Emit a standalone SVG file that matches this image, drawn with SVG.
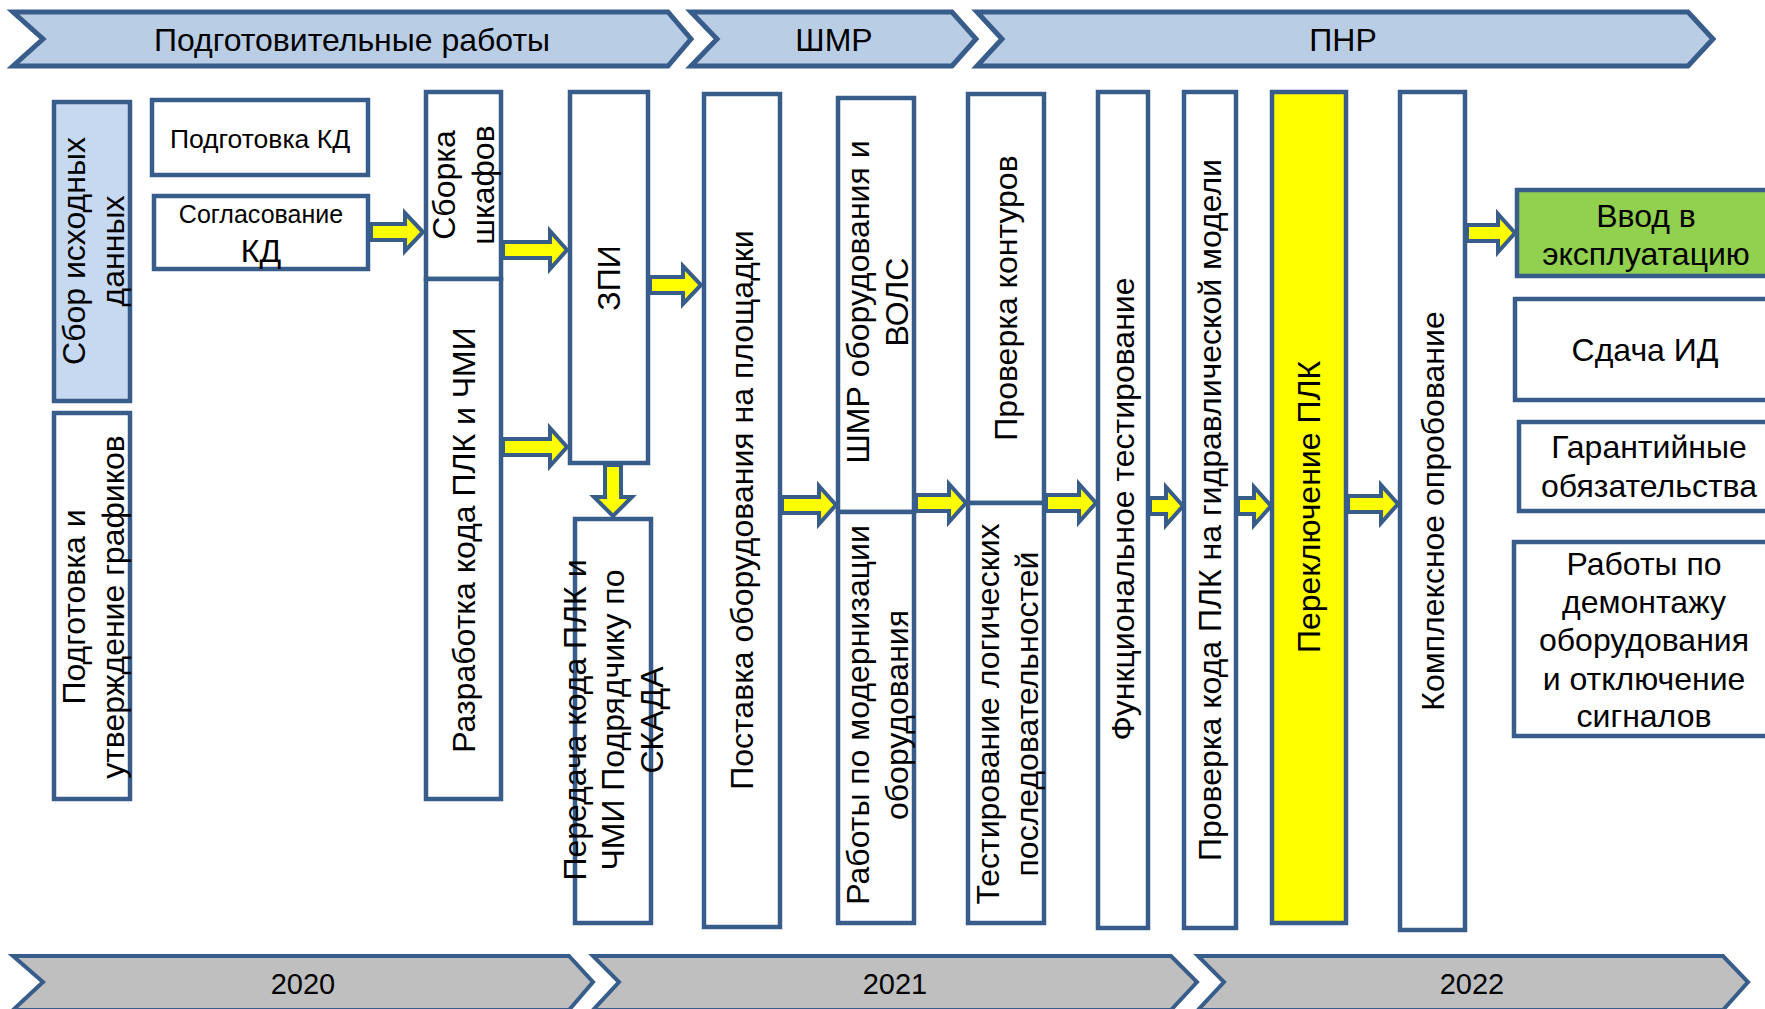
<svg xmlns="http://www.w3.org/2000/svg" width="1765" height="1009" viewBox="0 0 1765 1009">
<style>
.bg{fill:#fff}
.chev{fill:#B9CDE5;stroke:#385D8A;stroke-width:5;stroke-linejoin:miter}
.year{fill:#BFBFBF;stroke:#385D8A;stroke-width:4;stroke-linejoin:miter}
.box{fill:#fff;stroke:#385D8A;stroke-width:4.5}
.blue{fill:#C6D9F1}
.yellow{fill:#FFFF00}
.green{fill:#92D050}
.arrow{fill:#FFFF00;stroke:#385D8A;stroke-width:4;stroke-linejoin:miter}
.t{font-family:"Liberation Sans",Arial,sans-serif;font-size:32px;fill:#000;text-anchor:middle;dominant-baseline:central}
</style>
<rect class="bg" x="0" y="0" width="1765" height="1009"/>

<g id="phases">
  <g id="phase-prep">
    <polygon class="chev" points="13,12 668,12 691,39 668,66 13,66 43,39"/>
    <text class="t" x="352" y="40" style="font-size:32px">Подготовительные работы</text>
  </g>
  <g id="phase-shmr">
    <polygon class="chev" points="691,12 952,12 976,39 952,66 691,66 717,39"/>
    <text class="t" x="834" y="40" style="font-size:32px">ШМР</text>
  </g>
  <g id="phase-pnr">
    <polygon class="chev" points="977,12 1688,12 1713,39 1688,66 977,66 1002,39"/>
    <text class="t" x="1343" y="40" style="font-size:32px">ПНР</text>
  </g>
</g>

<g id="years">
  <g id="year-2020">
    <polygon class="year" points="13,956 569,956 593,982 569,1010 13,1010 43,982"/>
    <text class="t" x="303" y="984" style="font-size:29px">2020</text>
  </g>
  <g id="year-2021">
    <polygon class="year" points="593,956 1171,956 1197,982 1171,1010 593,1010 619,982"/>
    <text class="t" x="895" y="984" style="font-size:29px">2021</text>
  </g>
  <g id="year-2022">
    <polygon class="year" points="1198,956 1723,956 1748,982 1723,1010 1198,1010 1224,982"/>
    <text class="t" x="1472" y="984" style="font-size:29px">2022</text>
  </g>
</g>

<g id="n-sbor">
  <rect class="box blue" x="54" y="102" width="76" height="299"/>
  <text class="t" transform="translate(93,251) rotate(-90)"><tspan x="0" dy="-19">Сбор исходных</tspan><tspan x="0" dy="38.5">данных</tspan></text>
</g>
<g id="n-grafiki">
  <rect class="box" x="54" y="413" width="76" height="386"/>
  <text class="t" transform="translate(93,607) rotate(-90)"><tspan x="0" dy="-19">Подготовка и</tspan><tspan x="0" dy="38.5">утверждение графиков</tspan></text>
</g>
<g id="n-podg-kd">
  <rect class="box" x="152" y="100" width="216" height="75"/>
  <text class="t" x="260" y="139" style="font-size:26.5px">Подготовка КД</text>
</g>
<g id="n-sogl-kd">
  <rect class="box" x="154" y="196" width="214" height="73"/>
  <text class="t" x="261" y="214" style="font-size:25px">Согласование</text>
  <text class="t" x="261" y="251">КД</text>
</g>
<g id="n-sborka">
  <rect class="box" x="426" y="92" width="75" height="187"/>
  <text class="t" transform="translate(463,185) rotate(-90)"><tspan x="0" dy="-19">Сборка</tspan><tspan x="0" dy="38.5">шкафов</tspan></text>
</g>
<g id="n-razrab">
  <rect class="box" x="426" y="279" width="75" height="520"/>
  <text class="t" transform="translate(464,540) rotate(-90)">Разработка кода ПЛК и ЧМИ</text>
</g>
<g id="n-zpi">
  <rect class="box" x="570" y="92" width="78" height="371"/>
  <text class="t" transform="translate(609,278) rotate(-90)">ЗПИ</text>
</g>
<g id="n-peredacha">
  <rect class="box" x="575" y="519" width="76" height="404"/>
  <text class="t" transform="translate(613,720) rotate(-90)"><tspan x="0" dy="-38.5">Передача кода ПЛК и</tspan><tspan x="0" dy="38.5">ЧМИ Подрядчику по</tspan><tspan x="0" dy="38.5">СКАДА</tspan></text>
</g>
<g id="n-postavka">
  <rect class="box" x="704" y="94" width="76" height="833"/>
  <text class="t" transform="translate(742,510) rotate(-90)">Поставка оборудования на площадки</text>
</g>
<g id="n-shmr">
  <rect class="box" x="838" y="98" width="76" height="414"/>
  <text class="t" transform="translate(877,302) rotate(-90)"><tspan x="0" dy="-19">ШМР оборудования и</tspan><tspan x="0" dy="38.5">ВОЛС</tspan></text>
</g>
<g id="n-modern">
  <rect class="box" x="838" y="512" width="76" height="411"/>
  <text class="t" transform="translate(877,715) rotate(-90)"><tspan x="0" dy="-19">Работы по модернизации</tspan><tspan x="0" dy="38.5">оборудования</tspan></text>
</g>
<g id="n-konturov">
  <rect class="box" x="968" y="94" width="76" height="409"/>
  <text class="t" transform="translate(1006,298) rotate(-90)">Проверка контуров</text>
</g>
<g id="n-test-log">
  <rect class="box" x="968" y="503" width="76" height="420"/>
  <text class="t" transform="translate(1007,714) rotate(-90)"><tspan x="0" dy="-19">Тестирование логических</tspan><tspan x="0" dy="38.5">последовательностей</tspan></text>
</g>
<g id="n-funk">
  <rect class="box" x="1098" y="92" width="50" height="836"/>
  <text class="t" transform="translate(1123,509) rotate(-90)">Функциональное тестирование</text>
</g>
<g id="n-gidr">
  <rect class="box" x="1184" y="92" width="52" height="836"/>
  <text class="t" transform="translate(1210,510) rotate(-90)">Проверка кода ПЛК на гидравлической модели</text>
</g>
<g id="n-perekl">
  <rect class="box yellow" x="1272" y="92" width="74" height="831"/>
  <text class="t" transform="translate(1309,507) rotate(-90)">Переключение ПЛК</text>
</g>
<g id="n-kompleks">
  <rect class="box" x="1400" y="92" width="65" height="838"/>
  <text class="t" transform="translate(1433,511) rotate(-90)">Комплексное опробование</text>
</g>
<g id="n-vvod">
  <rect class="box green" x="1517" y="190" width="270" height="86"/>
  <text class="t" x="1646" y="216">Ввод в</text>
  <text class="t" x="1646" y="254">эксплуатацию</text>
</g>
<g id="n-sdacha">
  <rect class="box" x="1515" y="299" width="270" height="101"/>
  <text class="t" x="1645" y="350">Сдача ИД</text>
</g>
<g id="n-garant">
  <rect class="box" x="1519" y="422" width="270" height="89"/>
  <text class="t" x="1649" y="447">Гарантийные</text>
  <text class="t" x="1649" y="486">обязательства</text>
</g>
<g id="n-demontazh">
  <rect class="box" x="1514" y="542" width="270" height="194"/>
  <text class="t" x="1644" y="564">Работы по</text>
  <text class="t" x="1644" y="602">демонтажу</text>
  <text class="t" x="1644" y="640">оборудования</text>
  <text class="t" x="1644" y="679">и отключение</text>
  <text class="t" x="1644" y="716">сигналов</text>
</g>

<g id="connectors">
  <path class="arrow" d="M371,224 H405 V213 L423,232 L405,251 V240 H371 Z"/>
  <path class="arrow" d="M503,242 H550 V231 L567,250 L550,269 V258 H503 Z"/>
  <path class="arrow" d="M503,439 H550 V428 L567,447 L550,466 V455 H503 Z"/>
  <path class="arrow" d="M650,277 H683 V266 L701,285 L683,304 V293 H650 Z"/>
  <path class="arrow" d="M605,465 V497 H594 L613,516 L632,497 H621 V465 Z"/>
  <path class="arrow" d="M782,497 H819 V486 L836,505 L819,524 V513 H782 Z"/>
  <path class="arrow" d="M916,495 H949 V484 L966,503 L949,522 V511 H916 Z"/>
  <path class="arrow" d="M1046,495 H1079 V484 L1096,503 L1079,522 V511 H1046 Z"/>
  <path class="arrow" d="M1150,498 H1166 V487 L1183,506 L1166,525 V514 H1150 Z"/>
  <path class="arrow" d="M1238,498 H1254 V487 L1271,506 L1254,525 V514 H1238 Z"/>
  <path class="arrow" d="M1348,496 H1381 V485 L1398,504 L1381,523 V512 H1348 Z"/>
  <path class="arrow" d="M1467,225 H1498 V214 L1515,233 L1498,252 V241 H1467 Z"/>
</g>
</svg>
